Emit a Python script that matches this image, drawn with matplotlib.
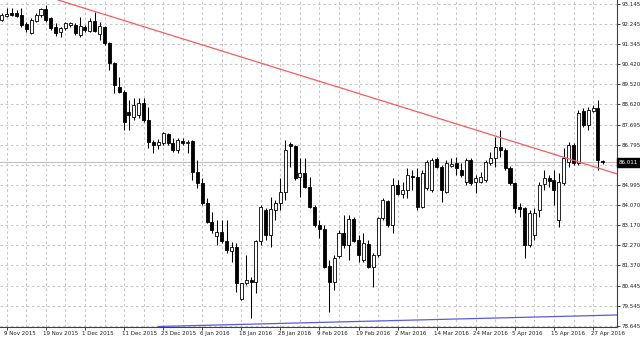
import matplotlib
matplotlib.use('Agg')
import matplotlib.pyplot as plt
import matplotlib.transforms as mtransforms
import numpy as np

# ---- data (daily candles, bar index 0 = 6 Nov 2015) ----
opens = [92.42, 92.60, 92.74, 92.74, 92.65, 92.24, 91.84, 92.38, 92.65, 92.92,
         92.51, 92.11, 91.88, 92.06, 92.20, 92.20, 91.75, 92.11, 91.93, 92.38,
         91.79, 92.11, 91.39, 90.49, 89.40, 89.18, 88.28, 88.05, 88.14, 88.69,
         87.92, 86.93, 86.79, 86.88, 87.29, 86.88, 86.57, 86.97, 86.88, 86.97,
         85.58, 85.08, 84.18, 83.32, 82.69, 82.87, 82.47, 82.02, 82.20, 79.85,
         80.57, 80.71, 80.62, 82.47, 83.86, 82.74, 83.86, 84.18, 84.68, 86.84,
         86.75, 85.35, 85.53, 84.90, 84.00, 83.19, 83.01, 81.34, 80.62, 81.79,
         82.83, 82.29, 83.46, 82.51, 81.61, 82.33, 81.30, 81.84, 83.50, 84.27,
         83.19, 84.99, 84.59, 84.77, 85.40, 85.35, 84.00, 84.86, 84.77, 86.16,
         85.80, 84.68, 85.85, 85.98, 85.67, 85.13, 86.12, 85.13, 85.13, 85.22,
         85.98, 86.21, 86.70, 86.57, 85.76, 85.08, 84.00, 83.95, 82.29, 82.74,
         83.86, 85.04, 85.31, 85.22, 83.41, 85.08, 86.03, 86.79, 85.98, 88.32,
         87.69, 88.32, 88.46, 86.07]
highs = [92.74, 92.96, 92.96, 92.87, 92.96, 92.33, 92.51, 92.74, 92.96, 93.10,
         92.56, 92.29, 92.11, 92.33, 92.33, 92.29, 92.56, 92.20, 92.51, 92.78,
         92.33, 92.15, 91.43, 90.53, 89.86, 89.27, 88.82, 88.91, 88.91, 88.91,
         88.50, 87.02, 87.06, 87.38, 87.33, 87.11, 87.11, 87.11, 87.02, 87.02,
         86.12, 85.31, 84.40, 83.77, 83.41, 83.41, 83.41, 82.42, 82.38, 80.57,
         81.84, 80.85, 82.51, 84.09, 83.95, 84.45, 84.31, 85.31, 87.02, 86.93,
         86.79, 86.21, 86.21, 85.35, 84.09, 83.41, 83.19, 81.61, 81.84, 82.96,
         83.64, 83.64, 83.55, 82.74, 82.83, 82.51, 81.93, 83.55, 84.40, 84.31,
         85.31, 85.22, 85.13, 85.76, 85.67, 85.76, 85.67, 86.12, 86.21, 86.25,
         85.89, 86.12, 86.21, 86.25, 85.98, 86.21, 86.21, 85.44, 85.58, 86.12,
         86.48, 87.15, 87.47, 86.66, 85.85, 85.13, 84.18, 84.00, 83.86, 83.95,
         85.13, 85.67, 85.44, 85.67, 85.53, 86.66, 86.93, 86.88, 88.37, 88.46,
         88.50, 88.60, 88.82, 86.12]
lows = [92.38, 92.56, 92.60, 92.56, 92.11, 91.88, 91.79, 92.33, 92.56, 92.33,
        91.97, 91.70, 91.66, 91.97, 92.11, 91.75, 91.66, 91.88, 91.88, 91.88,
        91.52, 91.30, 90.17, 89.14, 89.14, 87.47, 87.47, 87.92, 88.01, 87.83,
        86.66, 86.43, 86.61, 86.79, 86.79, 86.48, 86.43, 86.79, 86.43, 85.22,
        84.86, 84.09, 83.28, 82.83, 82.29, 82.38, 81.93, 81.52, 80.17, 79.81,
        80.49, 79.00, 80.12, 82.29, 82.51, 82.20, 83.41, 83.86, 84.31, 85.80,
        85.22, 84.45, 84.86, 83.95, 83.10, 82.60, 81.25, 79.27, 80.26, 81.70,
        82.15, 81.61, 82.42, 81.52, 81.52, 81.25, 80.40, 81.75, 83.41, 83.10,
        82.83, 84.54, 84.40, 84.40, 84.77, 83.86, 83.95, 84.77, 84.68, 85.76,
        84.22, 84.63, 85.80, 85.44, 85.35, 84.99, 84.99, 84.63, 85.08, 85.13,
        85.89, 85.80, 86.25, 85.67, 84.99, 83.73, 83.55, 81.70, 82.20, 82.51,
        83.55, 84.77, 84.90, 84.09, 83.10, 84.99, 85.80, 85.89, 85.89, 87.60,
        87.47, 88.28, 85.67, 85.94]
closes = [92.65, 92.69, 92.65, 92.60, 92.20, 92.02, 92.42, 92.65, 92.92, 92.42,
          92.06, 91.84, 92.06, 92.29, 92.29, 91.84, 92.15, 91.97, 92.38, 91.93,
          92.15, 91.39, 90.49, 89.50, 89.18, 87.83, 88.14, 88.60, 88.69, 87.92,
          86.93, 86.79, 86.93, 87.33, 86.88, 86.57, 87.02, 86.88, 86.93, 85.58,
          85.08, 84.18, 83.32, 82.96, 82.87, 82.47, 82.06, 82.20, 80.57, 80.57,
          80.71, 80.62, 82.47, 84.00, 82.74, 83.91, 84.18, 84.68, 86.57, 86.75,
          85.31, 85.53, 84.90, 84.00, 83.19, 83.01, 81.30, 80.62, 81.70, 82.83,
          82.29, 83.46, 82.47, 81.84, 82.38, 81.30, 81.84, 83.50, 84.31, 83.19,
          84.99, 84.59, 84.77, 85.44, 85.35, 84.00, 85.53, 86.03, 86.12, 85.80,
          84.77, 85.98, 85.94, 85.76, 85.44, 86.12, 85.08, 85.31, 85.35, 86.03,
          86.21, 86.70, 86.57, 85.76, 85.08, 83.95, 83.91, 82.29, 83.73, 83.73,
          84.99, 85.31, 85.17, 84.77, 85.13, 86.21, 86.79, 85.98, 88.23, 87.69,
          88.37, 88.46, 86.12, 86.01]

x_tick_bars = [1, 9, 17, 25, 33, 41, 49, 57, 65, 73, 81, 89, 97, 105, 113, 121]
x_tick_labels = ['9 Nov 2015', '19 Nov 2015', '1 Dec 2015', '11 Dec 2015',
                 '23 Dec 2015', '6 Jan 2016', '18 Jan 2016', '28 Jan 2016',
                 '9 Feb 2016', '19 Feb 2016', '2 Mar 2016', '14 Mar 2016',
                 '24 Mar 2016', '5 Apr 2016', '15 Apr 2016', '27 Apr 2016']
y_ticks = [93.145, 92.245, 91.345, 90.420, 89.520, 88.620, 87.695, 86.795,
           85.895, 84.995, 84.070, 83.170, 82.270, 81.370, 80.445, 79.545, 78.645]
y_tick_labels = ['93.145', '92.245', '91.345', '90.420', '89.520', '88.620',
                 '87.695', '86.795', '', '84.995', '84.070', '83.170', '82.270',
                 '81.370', '80.445', '79.545', '78.645']
current_price = 86.011
red_line_bars = [19, 121]
red_line_prices = [92.81, 85.83]
blue_line_bars = [32, 121]
blue_line_prices = [78.62, 79.11]

# ---- figure ----
W, H = 640, 337
fig = plt.figure(figsize=(W / 100, H / 100), dpi=100)
fig.patch.set_facecolor('white')
ax = fig.add_axes([0, 10 / H, 617 / W, 327 / H])
ax.set_facecolor('white')

n = len(opens)
xs = np.arange(n)
o = np.array(opens); c = np.array(closes)
hi = np.array(highs); lo = np.array(lows)

xmin, xmax = -0.39, 125.9
ax.set_xlim(xmin, xmax)
ax.set_ylim(78.596, 93.325)

# grid
grid_kw = dict(color='#c8c8c8', lw=0.75, ls=(0, (2.5, 2.5)), zorder=0)
for gx in range(1, n, 4):
    ax.axvline(gx, **grid_kw)
for gy in y_ticks:
    ax.axhline(gy, **grid_kw)

# bid line
ax.axhline(current_price, color='#c0c0c0', lw=0.8, zorder=1)

# wicks
ax.vlines(xs, lo, hi, color='black', lw=0.75, zorder=3)
# bodies
bottoms = np.minimum(o, c)
heights = np.maximum(np.abs(c - o), 0.02)
fcs = ['white' if cc >= oo else 'black' for oo, cc in zip(o, c)]
ax.bar(xs, heights, bottom=bottoms, width=0.62, color=fcs, edgecolor='black',
       linewidth=0.6, zorder=4)

# trend lines
ax.axline((red_line_bars[0], red_line_prices[0]),
          (red_line_bars[1], red_line_prices[1]), color='#ff5a5a', lw=0.9, zorder=5)
slope = (blue_line_prices[1] - blue_line_prices[0]) / (blue_line_bars[1] - blue_line_bars[0])
bx = [blue_line_bars[0], xmax + 1]
by = [blue_line_prices[0], blue_line_prices[0] + slope * (xmax + 1 - blue_line_bars[0])]
ax.plot(bx, by, color='#5a5ae0', lw=0.9, zorder=5)

# spines
for s in ['left', 'top']:
    ax.spines[s].set_visible(False)
for s in ['right', 'bottom']:
    ax.spines[s].set_color('#404040')
    ax.spines[s].set_linewidth(0.8)

fs = 4.0
ax.yaxis.tick_right()
ax.set_yticks(y_ticks)
ax.set_yticklabels(y_tick_labels)
ax.tick_params(axis='y', direction='out', length=2.2, width=0.6, pad=0.8,
               labelsize=fs, colors='#202020')
ax.set_xticks(x_tick_bars)
ax.set_xticklabels(x_tick_labels)
ax.tick_params(axis='x', direction='out', length=2, width=0.6, pad=0.6,
               labelsize=fs, colors='#202020')
offset = mtransforms.ScaledTranslation(-2.5 / 100, 0, fig.dpi_scale_trans)
for lab in ax.get_xticklabels():
    lab.set_horizontalalignment('left')
    lab.set_transform(lab.get_transform() + offset)

# current price label
ax.text(1.0 + 1.5 / 617, current_price, '%.3f' % current_price,
        transform=ax.get_yaxis_transform(), ha='left', va='center',
        fontsize=fs, color='white', zorder=10, clip_on=False,
        bbox=dict(boxstyle='square,pad=0.35', fc='black', ec='black'))

fig.savefig('out.png', dpi=100, facecolor='white')
